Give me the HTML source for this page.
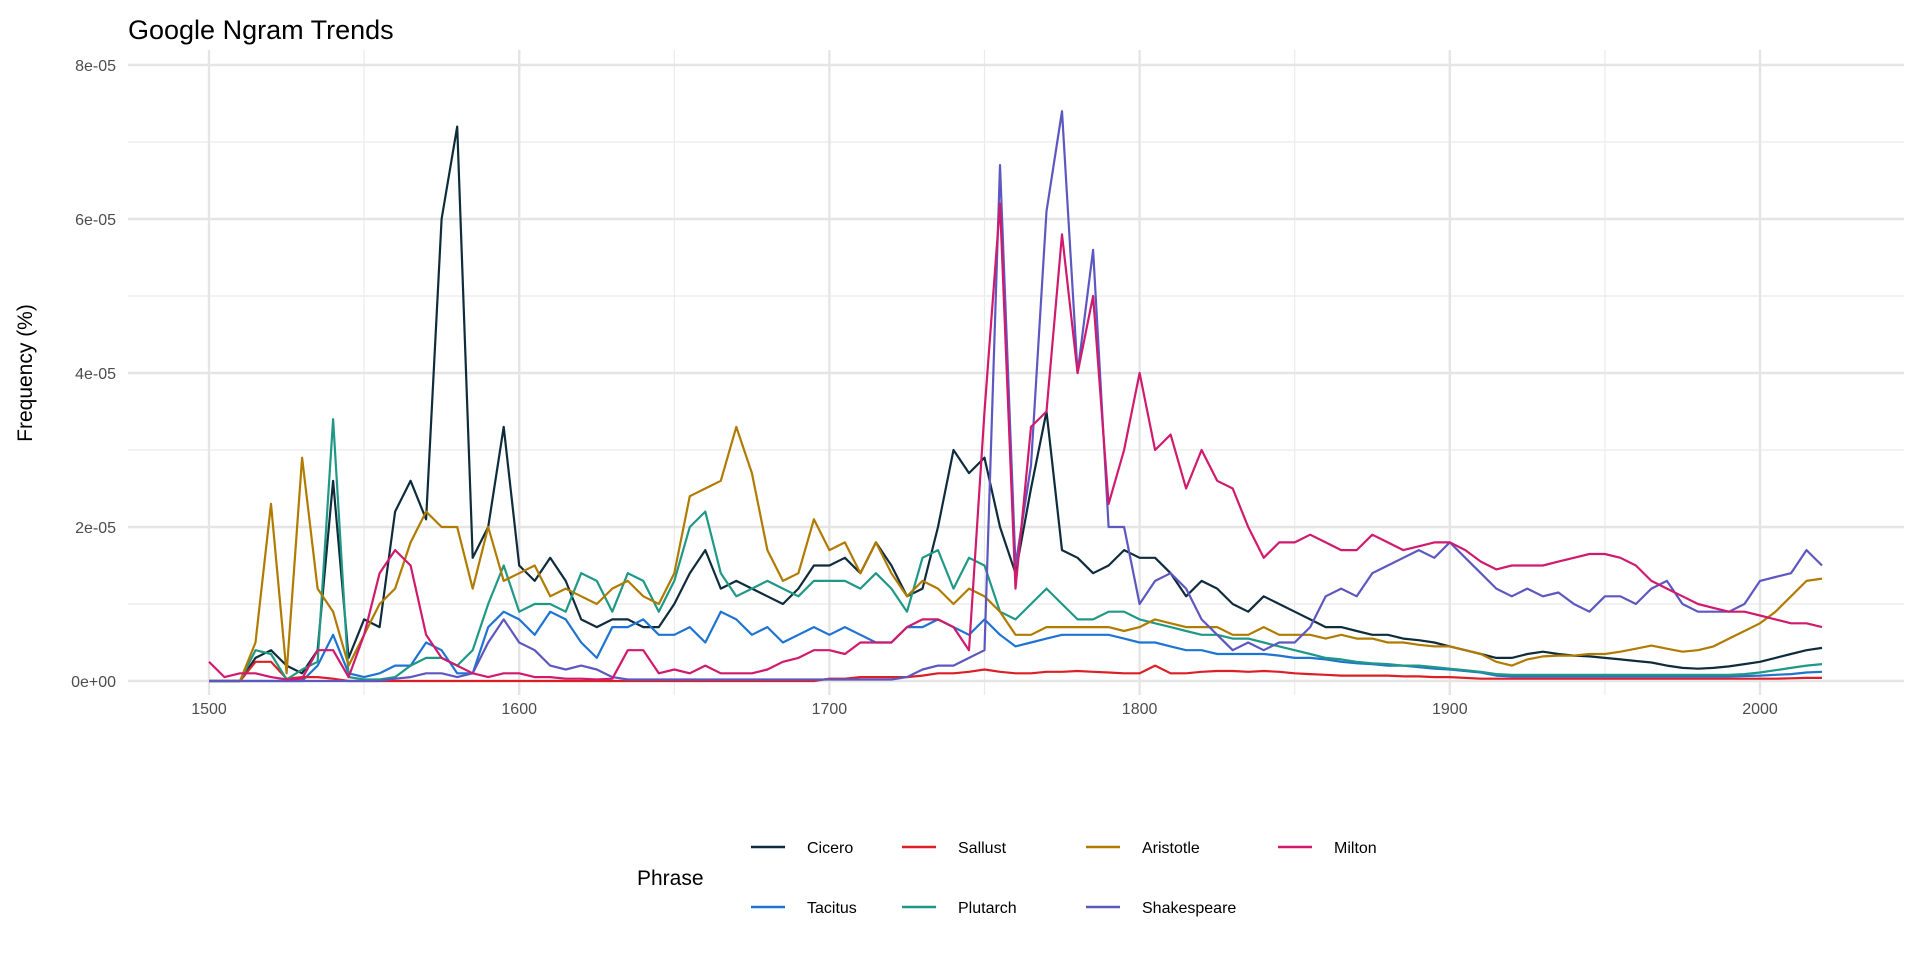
<!DOCTYPE html>
<html><head><meta charset="utf-8"><style>
html,body{margin:0;padding:0;background:#fff;}
svg text{font-family:"Liberation Sans",sans-serif;}
</style></head><body>
<svg id="chart" width="1920" height="960" viewBox="0 0 1920 960" xmlns="http://www.w3.org/2000/svg">
<text x="128" y="39" font-size="27" fill="#000">Google Ngram Trends</text>
<g id="grid"></g>
<g id="axes"></g>
<g id="series"></g>
<text transform="translate(32,373) rotate(-90)" text-anchor="middle" font-size="21" fill="#000">Frequency (%)</text>
<g id="legend"></g>
</svg>
<script>
const years = [];
for (let y = 1500; y <= 2020; y += 5) years.push(y);
const cicero = [0,0,0,3,4,2,1,4,26,3,8,7,22,26,21,60,72,16,20,33,15,13,16,13,8,7,8,8,7,7,10,14,17,12,13,12,11,10,12,15,15,16,14,18,15,11,12,20,30,27,29,20,14,25,35,17,16,14,15,17,16,16,14,11,13,12,10,9,11,10,9,8,7,7,6.5,6,6,5.5,5.3,5,4.5,4,3.5,3,3,3.5,3.8,3.5,3.3,3.2,3,2.8,2.6,2.4,2,1.7,1.6,1.7,1.9,2.2,2.5,3,3.5,4,4.3];
const sallust = [0,0,0,2.5,2.5,0.3,0.5,0.5,0.3,0,0,0,0,0,0,0,0,0,0,0,0,0,0,0,0,0,0,0,0,0,0,0,0,0,0,0,0,0,0,0,0.3,0.3,0.5,0.5,0.5,0.5,0.7,1,1,1.2,1.5,1.2,1,1,1.2,1.2,1.3,1.2,1.1,1,1,2,1,1,1.2,1.3,1.3,1.2,1.3,1.2,1,0.9,0.8,0.7,0.7,0.7,0.7,0.6,0.6,0.5,0.5,0.4,0.3,0.3,0.3,0.3,0.3,0.3,0.3,0.3,0.3,0.3,0.3,0.3,0.3,0.3,0.3,0.3,0.3,0.3,0.3,0.3,0.35,0.4,0.4];
const aristotle = [0,0,0,5,23,1,29,12,9,2,6,10,12,18,22,20,20,12,20,13,14,15,11,12,11,10,12,13,11,10,14,24,25,26,33,27,17,13,14,21,17,18,14,18,14,11,13,12,10,12,11,9,6,6,7,7,7,7,7,6.5,7,8,7.5,7,7,7,6,6,7,6,6,6,5.5,6,5.5,5.5,5,5,4.7,4.5,4.5,4,3.5,2.5,2,2.8,3.2,3.3,3.3,3.5,3.5,3.8,4.2,4.6,4.2,3.8,4,4.5,5.5,6.5,7.5,9,11,13,13.3];
const milton = [2.5,0.5,1,1,0.5,0.2,0.3,4,4,0.5,6,14,17,15,6,3,2,1,0.5,1,1,0.5,0.5,0.3,0.3,0.2,0.3,4,4,1,1.5,1,2,1,1,1,1.5,2.5,3,4,4,3.5,5,5,5,7,8,8,7,4,35,62,12,33,35,58,40,50,23,30,40,30,32,25,30,26,25,20,16,18,18,19,18,17,17,19,18,17,17.5,18,18,17,15.5,14.5,15,15,15,15.5,16,16.5,16.5,16,15,13,12,11,10,9.5,9,9,8.5,8,7.5,7.5,7];
const tacitus = [0,0,0,0,0,0,0,2,6,1,0.5,1,2,2,5,4,1,1,7,9,8,6,9,8,5,3,7,7,8,6,6,7,5,9,8,6,7,5,6,7,6,7,6,5,5,7,7,8,7,6,8,6,4.5,5,5.5,6,6,6,6,5.5,5,5,4.5,4,4,3.5,3.5,3.5,3.5,3.3,3,3,2.8,2.5,2.3,2.2,2,2,1.8,1.6,1.5,1.3,1.1,0.7,0.6,0.6,0.6,0.6,0.6,0.6,0.6,0.6,0.6,0.6,0.6,0.6,0.6,0.6,0.6,0.65,0.7,0.8,0.9,1.1,1.2];
const plutarch = [0,0,0,4,3.5,0.2,1.5,2.5,34,0.5,0.2,0.2,0.5,2,3,3,2,4,10,15,9,10,10,9,14,13,9,14,13,9,13,20,22,14,11,12,13,12,11,13,13,13,12,14,12,9,16,17,12,16,15,9,8,10,12,10,8,8,9,9,8,7.5,7,6.5,6,6,5.5,5.5,5,4.5,4,3.5,3,2.8,2.5,2.3,2.2,2,2,1.8,1.6,1.4,1.2,0.9,0.8,0.8,0.8,0.8,0.8,0.8,0.8,0.8,0.8,0.8,0.8,0.8,0.8,0.8,0.8,0.9,1.1,1.4,1.7,2,2.2];
const shakespeare = [0,0,0,0,0,0,0,0,0,0,0,0,0.3,0.5,1,1,0.5,1,5,8,5,4,2,1.5,2,1.5,0.5,0.2,0.2,0.2,0.2,0.2,0.2,0.2,0.2,0.2,0.2,0.2,0.2,0.2,0.2,0.2,0.2,0.2,0.2,0.5,1.5,2,2,3,4,67,15,28,61,74,40,56,20,20,10,13,14,12,8,6,4,5,4,5,5,7,11,12,11,14,15,16,17,16,18,16,14,12,11,12,11,11.5,10,9,11,11,10,12,13,10,9,9,9,10,13,13.5,14,17,15];
const seriesNames = ["Cicero","Sallust","Aristotle","Milton","Tacitus","Plutarch","Shakespeare"];
const seriesData = [cicero,sallust,aristotle,milton,tacitus,plutarch,shakespeare];
const seriesColors = ["#0f2c3c","#dc1f26","#b07b00","#d01a6e","#1f74d3","#1f9886","#5d57c0"];
const xTicks = [1500,1600,1700,1800,1900,2000];
const yTicks = [0,20,40,60,80];
const yTickLabels = ["0e+00","2e-05","4e-05","6e-05","8e-05"];

const NS = "http://www.w3.org/2000/svg";
const X0 = 209, X1 = 1760, Y0 = 681, Y1 = 65;
const xs = y => X0 + (y - 1500) * (X1 - X0) / 500;
const ys = v => Y0 - v * (Y0 - Y1) / 80;
const PL = 128, PR = 1904;
function mk(tag, attrs, parent) {
  const e = document.createElementNS(NS, tag);
  for (const k in attrs) e.setAttribute(k, attrs[k]);
  parent.appendChild(e);
  return e;
}
const grid = document.getElementById('grid');
for (let v = 10; v <= 70; v += 20) {
  const l = mk('line', {x1: PL, x2: PR, y1: ys(v), y2: ys(v), stroke: '#ebebeb', 'stroke-width': 1.2}, grid);
  
  
}
for (let yr = 1550; yr <= 1950; yr += 100) {
  const l = mk('line', {x1: xs(yr), x2: xs(yr), y1: 50, y2: 695, stroke: '#ebebeb', 'stroke-width': 1.2}, grid);
  
  
}
const axes = document.getElementById('axes');
yTicks.forEach((v, i) => {
  const l = mk('line', {x1: PL, x2: PR, y1: ys(v), y2: ys(v), stroke: '#e5e5e5', 'stroke-width': 2.4}, grid);
  
  
  const t = mk('text', {x: 116, y: ys(v) + 6, 'text-anchor': 'end', 'font-size': 16, fill: '#4d4d4d'}, axes);
  t.textContent = yTickLabels[i];
  
  
});
xTicks.forEach(yr => {
  const l = mk('line', {x1: xs(yr), x2: xs(yr), y1: 50, y2: 695, stroke: '#e5e5e5', 'stroke-width': 2.4}, grid);
  
  
  const t = mk('text', {x: xs(yr), y: 714, 'text-anchor': 'middle', 'font-size': 16, fill: '#4d4d4d'}, axes);
  t.textContent = yr;
  
  
});
const sg = document.getElementById('series');
const drawOrder = [0,4,1,5,2,6,3];
drawOrder.forEach(i => {
  const pts = seriesData[i].map((v, j) => xs(years[j]).toFixed(1) + ',' + ys(v).toFixed(1)).join(' ');
  const p = mk('polyline', {points: pts, fill: 'none', stroke: seriesColors[i], 'stroke-width': 2.2, 'stroke-linejoin': 'round'}, sg);
  
  
});
const lg = document.getElementById('legend');
const lt = mk('text', {x: 637, y: 885, 'font-size': 21, fill: '#000'}, lg);
lt.textContent = 'Phrase';


const colKey = [751, 902, 1086, 1278];
const rowY = [847, 907];
const legendOrder = [[0,0,0],[1,0,1],[2,0,2],[3,0,3],[4,1,0],[5,1,1],[6,1,2]];
legendOrder.forEach(([i, r, c]) => {
  const g = mk('g', {}, lg);
  
  
  mk('line', {x1: colKey[c], x2: colKey[c] + 34, y1: rowY[r], y2: rowY[r], stroke: seriesColors[i], 'stroke-width': 2.6}, g);
  const t = mk('text', {x: colKey[c] + 56, y: rowY[r] + 6, 'font-size': 16, fill: '#000'}, g);
  t.textContent = seriesNames[i];
});
</script>
</body></html>
